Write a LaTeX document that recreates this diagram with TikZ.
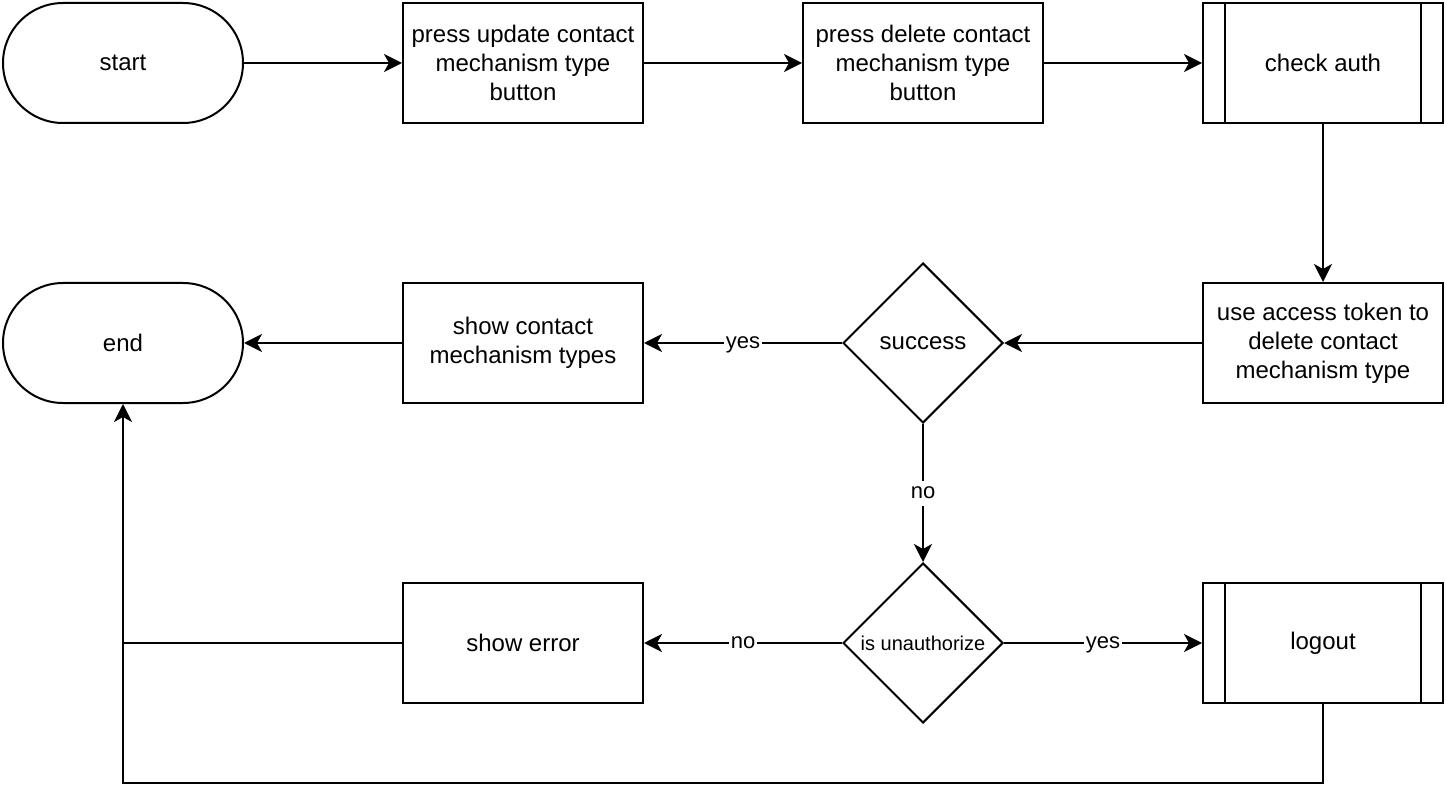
\documentclass[tikz,border=0pt]{standalone}
\usepackage{fontspec}
\setmainfont{Liberation Sans}
\usetikzlibrary{arrows.meta,shapes.geometric}

\begin{document}
\begin{tikzpicture}[x=0.5pt, y=-0.5pt, line width=1pt,
  box/.style={draw, rectangle, minimum width=120pt, minimum height=60pt, inner sep=0pt, align=center, font=\fontsize{12}{14.4}\selectfont},
  term/.style={box, rounded corners=30pt},
  decide/.style={draw, diamond, aspect=1, minimum width=80pt, minimum height=80pt, inner sep=0pt, align=center},
  flow/.style={-{Stealth[length=9pt, width=9pt, inset=2.5pt]}},
  lbl/.style={midway, fill=white, inner sep=1pt, text height=8pt, text depth=2.5pt, font=\fontsize{11}{13}\selectfont}]
\useasboundingbox (0,0) rectangle (1446,802);

% top row
\node[term] (start) at (123,63) {start};
\node[box] (upd) at (523,63) {press update contact\\mechanism type\\button};
\node[box] (del) at (923,63) {press delete contact\\mechanism type\\button};
\node[box] (chk) at (1323,63) {check auth};

% middle row
\node[term] (end) at (123,343) {end};
\node[box] (show) at (523,343) {show contact\\mechanism types};
\node[decide, font=\fontsize{12}{14.4}\selectfont] (succ) at (923,343) {success};
\node[box] (tok) at (1323,343) {use access token to\\delete contact\\mechanism type};

% bottom row
\node[box] (err) at (523,643) {show error};
\node[decide, font=\fontsize{10}{12}\selectfont] (unauth) at (923,643) {is unauthorize};
\node[box] (logout) at (1323,643) {logout};
\coordinate (low) at (1323,783);

% subroutine bars
\foreach \n in {chk,logout} {
  \draw ([xshift=11.5pt]\n.north west) -- ([xshift=11.5pt]\n.south west);
  \draw ([xshift=-11.5pt]\n.north east) -- ([xshift=-11.5pt]\n.south east);
}

% connectors
\draw[flow] (start) -- (upd);
\draw[flow] (upd) -- (del);
\draw[flow] (del) -- (chk);
\draw[flow] (chk) -- (tok);
\draw[flow] (tok) -- (succ);
\draw[flow] (succ) -- node[lbl] {yes} (show);
\draw[flow] (show) -- (end);
\draw[flow] (succ) -- node[lbl] {no} (unauth);
\draw[flow] (unauth) -- node[lbl] {no} (err);
\draw[flow] (unauth) -- node[lbl] {yes} (logout);
\draw (err.west) -- (err.west -| end.south);
\draw[flow] (logout.south) -- (low) -| (end.south);
\end{tikzpicture}
\end{document}
